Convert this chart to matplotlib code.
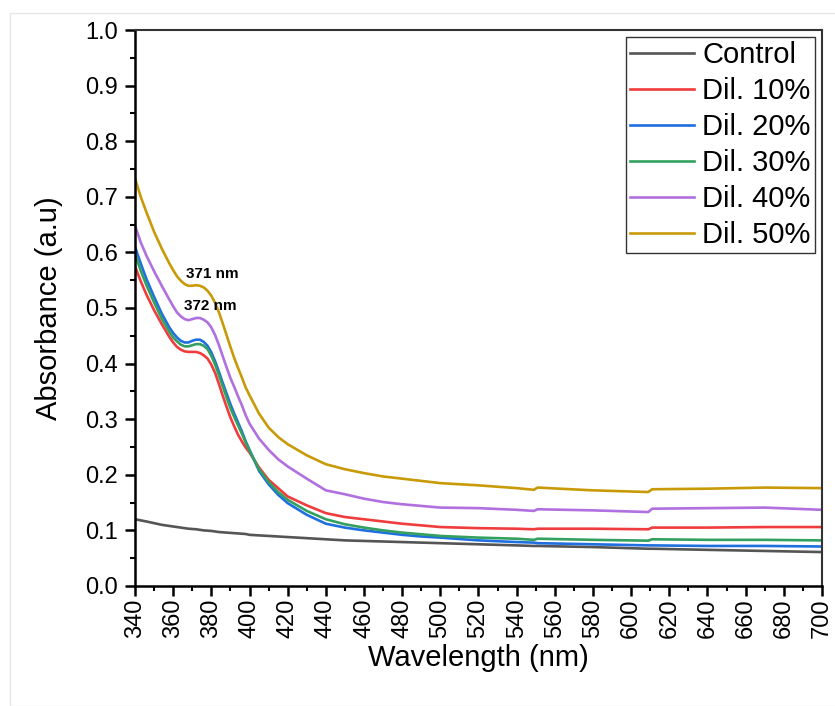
import matplotlib.pyplot as plt
from matplotlib.patches import Rectangle
from matplotlib.ticker import MultipleLocator

plt.rcParams['font.family'] = ['Liberation Sans', 'DejaVu Sans']

wavelength = [340, 343, 346, 350, 354, 358, 360, 362, 364, 366, 368, 370, 372, 374, 376,
              378, 380, 382, 384, 386, 388, 390, 392, 394, 396, 398, 400,
              405, 410, 415, 420, 430, 440, 450, 460, 470, 480, 490, 500, 520, 540,
              549, 551, 580, 609, 611, 640, 670, 700]

control = [0.120, 0.118, 0.116, 0.113, 0.110, 0.108, 0.107, 0.106, 0.105, 0.104, 0.103,
           0.1025, 0.102, 0.101, 0.100, 0.0995, 0.099, 0.098, 0.097, 0.0965, 0.096,
           0.0955, 0.095, 0.0945, 0.094, 0.0935, 0.092,
           0.091, 0.090, 0.089, 0.088, 0.086, 0.084, 0.082, 0.081, 0.080, 0.079, 0.078,
           0.077, 0.075, 0.073, 0.072, 0.072, 0.070, 0.067, 0.067, 0.065, 0.063, 0.061]
dil10 = [0.575, 0.548, 0.524, 0.496, 0.471, 0.448, 0.438, 0.430, 0.425, 0.422, 0.421,
         0.421, 0.421, 0.419, 0.415, 0.409, 0.398, 0.383, 0.363, 0.342, 0.322, 0.303,
         0.287, 0.272, 0.260, 0.249, 0.240,
         0.213, 0.191, 0.176, 0.161, 0.145, 0.131, 0.124, 0.120, 0.116, 0.112, 0.109,
         0.106, 0.104, 0.103, 0.102, 0.103, 0.103, 0.102, 0.105, 0.105, 0.106, 0.106]
dil20 = [0.610, 0.580, 0.552, 0.520, 0.490, 0.465, 0.455, 0.447, 0.441, 0.438, 0.438,
         0.441, 0.443, 0.443, 0.439, 0.432, 0.420, 0.404, 0.385, 0.365, 0.346, 0.327,
         0.310, 0.294, 0.278, 0.260, 0.245,
         0.207, 0.183, 0.164, 0.149, 0.128, 0.112, 0.105, 0.100, 0.096, 0.092, 0.089,
         0.087, 0.082, 0.079, 0.078, 0.077, 0.075, 0.073, 0.073, 0.072, 0.072, 0.071]
dil30 = [0.597, 0.567, 0.541, 0.510, 0.481, 0.457, 0.447, 0.440, 0.434, 0.431, 0.431,
         0.433, 0.435, 0.435, 0.432, 0.426, 0.414, 0.398, 0.379, 0.359, 0.339, 0.320,
         0.304, 0.289, 0.274, 0.258, 0.243,
         0.210, 0.187, 0.169, 0.155, 0.135, 0.120, 0.111, 0.105, 0.100, 0.096, 0.093,
         0.090, 0.087, 0.085, 0.083, 0.085, 0.083, 0.0815, 0.084, 0.083, 0.083, 0.082]
dil40 = [0.648, 0.618, 0.594, 0.566, 0.540, 0.515, 0.503, 0.492, 0.485, 0.480, 0.478,
         0.480, 0.482, 0.482, 0.479, 0.474, 0.465, 0.451, 0.433, 0.413, 0.393, 0.374,
         0.358, 0.341, 0.325, 0.307, 0.292,
         0.265, 0.245, 0.228, 0.215, 0.193, 0.172, 0.165, 0.157, 0.151, 0.147, 0.144,
         0.141, 0.140, 0.137, 0.135, 0.138, 0.136, 0.133, 0.139, 0.140, 0.141, 0.137]
dil50 = [0.733, 0.700, 0.672, 0.637, 0.607, 0.580, 0.568, 0.557, 0.549, 0.543, 0.540,
         0.540, 0.541, 0.540, 0.537, 0.531, 0.522, 0.509, 0.492, 0.472, 0.451, 0.430,
         0.410, 0.392, 0.375, 0.357, 0.343,
         0.310, 0.285, 0.268, 0.255, 0.235, 0.219, 0.210, 0.203, 0.197, 0.193, 0.189,
         0.185, 0.181, 0.176, 0.173, 0.177, 0.172, 0.169, 0.174, 0.175, 0.177, 0.176]

labels = ['Control', 'Dil. 10%', 'Dil. 20%', 'Dil. 30%', 'Dil. 40%', 'Dil. 50%']
colors = ['#555555', '#f03c3c', '#1f6fe0', '#33a060', '#b070e0', '#c99a08']
series = [control, dil10, dil20, dil30, dil40, dil50]

fig = plt.figure(figsize=(8.35, 7.06), dpi=100)
ax = fig.add_axes([0.1617, 0.170, 0.8227, 0.7875])

# thin grey frame round the whole figure
fig.patches.append(Rectangle((10 / 835, 0), 1, 1 - 13 / 706, transform=fig.transFigure,
                             fill=False, edgecolor='#e6e6e6', lw=1))

for y, lab, c in zip(series, labels, colors):
    ax.plot(wavelength, y, color=c, lw=1.9, label=lab)

ax.text(366.7, 0.561, '371 nm', fontsize=11, fontweight='bold', va='center')
ax.text(365.7, 0.503, '372 nm', fontsize=11, fontweight='bold', va='center')

ax.set_xlim(340, 700)
ax.set_ylim(0, 1.0)
ax.xaxis.set_major_locator(MultipleLocator(20))
ax.xaxis.set_minor_locator(MultipleLocator(10))
ax.yaxis.set_major_locator(MultipleLocator(0.1))
ax.yaxis.set_minor_locator(MultipleLocator(0.05))
ax.tick_params(which='major', length=7, width=1.8, labelsize=17)
ax.tick_params(which='minor', length=3.5, width=1.5)
ax.tick_params(axis='x', labelrotation=90, pad=2)
ax.tick_params(axis='y', pad=5)
for side in ['left', 'bottom']:
    ax.spines[side].set_linewidth(1.8)
for side in ['top', 'right']:
    ax.spines[side].set_linewidth(1.5)
    ax.spines[side].set_color('#333333')

ax.set_xlabel('Wavelength (nm)', fontsize=21, labelpad=4)
ax.set_ylabel('Absorbance (a.u)', fontsize=21, labelpad=16)

leg = ax.legend(loc='upper right', fontsize=21, frameon=True, fancybox=False,
                edgecolor='black', handlelength=2.2, handletextpad=0.27,
                labelspacing=0.27, borderaxespad=0.24, borderpad=0.15)
leg.get_frame().set_linewidth(1.0)

fig.savefig('out.png', dpi=100)
